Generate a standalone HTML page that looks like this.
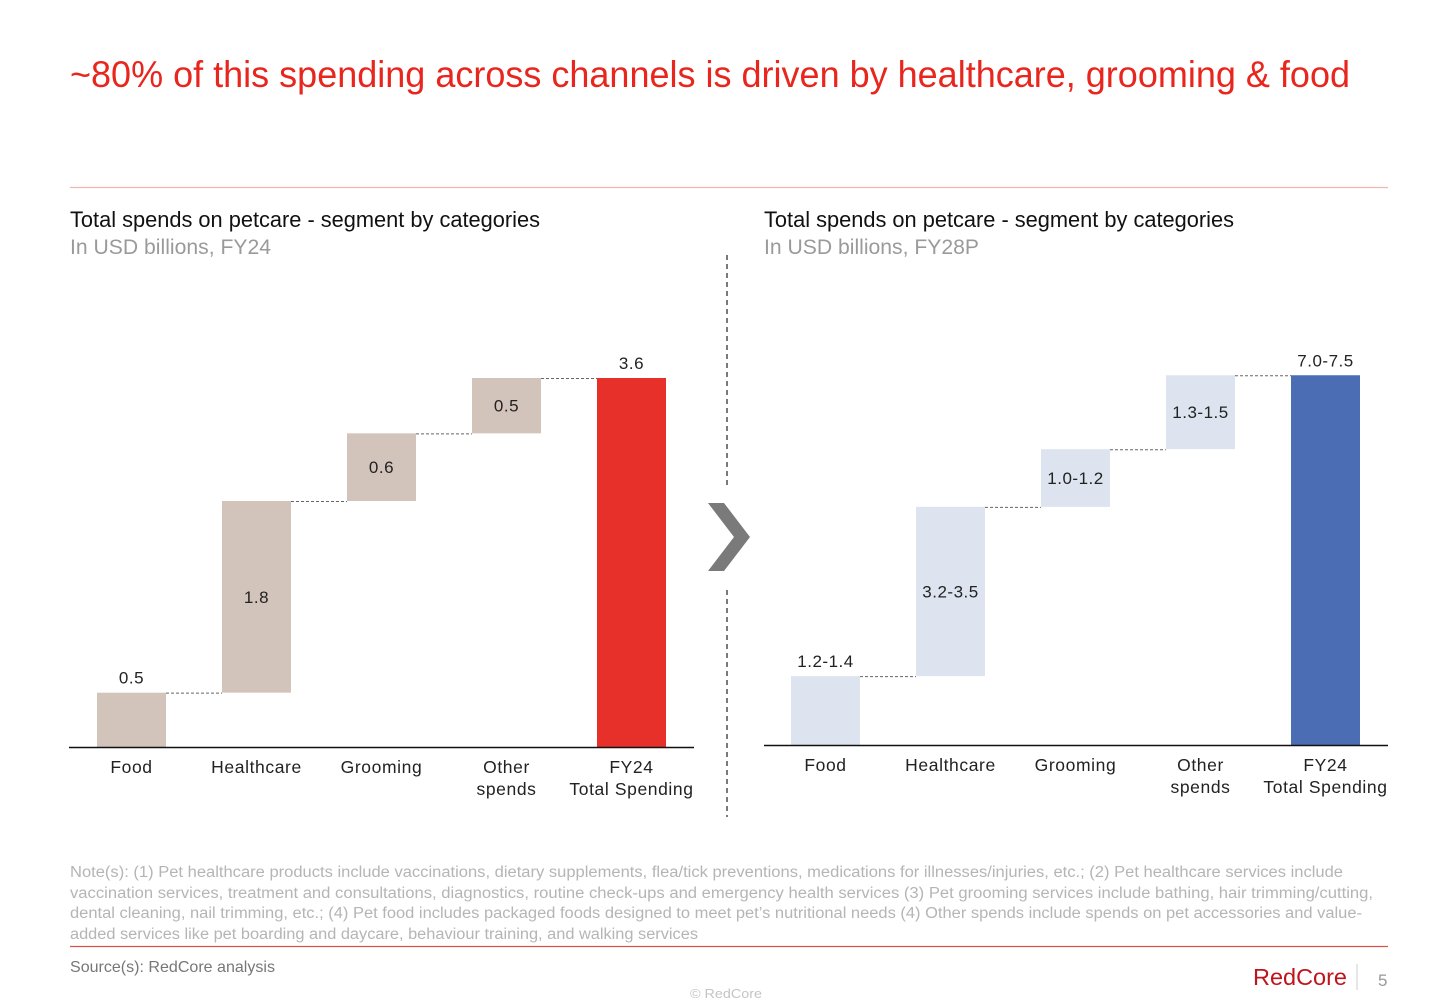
<!DOCTYPE html>
<html><head><meta charset="utf-8"><style>
body{margin:0;background:#fff}
svg{display:block;font-family:"Liberation Sans",sans-serif}
</style></head><body>
<svg id="s" width="1456" height="1007" viewBox="0 0 1456 1007">
<text x="70" y="87" font-size="37" fill="#e8261e" textLength="1280" lengthAdjust="spacingAndGlyphs">~80% of this spending across channels is driven by healthcare, grooming &amp; food</text>
<line x1="70" y1="187.5" x2="1388" y2="187.5" stroke="#f0b8b0" stroke-width="1.2"/>
<text x="70" y="227" font-size="22" fill="#111" textLength="470" lengthAdjust="spacingAndGlyphs">Total spends on petcare - segment by categories</text>
<text x="70" y="254" font-size="21" fill="#9a9a9a" textLength="201" lengthAdjust="spacingAndGlyphs">In USD billions, FY24</text>
<text x="764" y="227" font-size="22" fill="#111" textLength="470" lengthAdjust="spacingAndGlyphs">Total spends on petcare - segment by categories</text>
<text x="764" y="254" font-size="21" fill="#9a9a9a" textLength="215" lengthAdjust="spacingAndGlyphs">In USD billions, FY28P</text>
<line x1="727" y1="255" x2="727" y2="485" stroke="#333" stroke-width="1.3" stroke-dasharray="5,4"/>
<line x1="727" y1="590" x2="727" y2="817" stroke="#333" stroke-width="1.3" stroke-dasharray="5,4"/>
<polygon points="708,503 724,503 750,537 724,571 708,571 734,537" fill="#7a7a7a"/>
<g id="left"></g>
<g id="right"></g>
<g font-size="15.5" fill="#b5b5b5">
<text x="70" y="877" textLength="1273" lengthAdjust="spacingAndGlyphs">Note(s): (1) Pet healthcare products include vaccinations, dietary supplements, flea/tick preventions, medications for illnesses/injuries, etc.; (2) Pet healthcare services include</text>
<text x="70" y="898" textLength="1303" lengthAdjust="spacingAndGlyphs">vaccination services, treatment and consultations, diagnostics, routine check-ups and emergency health services (3) Pet grooming services include bathing, hair trimming/cutting,</text>
<text x="70" y="918" textLength="1292" lengthAdjust="spacingAndGlyphs">dental cleaning, nail trimming, etc.; (4) Pet food includes packaged foods designed to meet pet’s nutritional needs (4) Other spends include spends on pet accessories and value-</text>
<text x="70" y="939" textLength="628" lengthAdjust="spacingAndGlyphs">added services like pet boarding and daycare, behaviour training, and walking services</text>
</g>
<line x1="70" y1="946.5" x2="1388" y2="946.5" stroke="#d9534a" stroke-width="1.2"/>
<text x="70" y="972" font-size="16" fill="#777" textLength="205" lengthAdjust="spacingAndGlyphs">Source(s): RedCore analysis</text>
<text x="690" y="998" font-size="13" fill="#c4c4c4" textLength="72" lengthAdjust="spacingAndGlyphs">© RedCore</text>
<text x="1253" y="985" font-size="23" fill="#c0141c" textLength="94" lengthAdjust="spacingAndGlyphs">RedCore</text>
<line x1="1357" y1="964" x2="1357" y2="990" stroke="#ccc" stroke-width="1"/>
<text x="1378" y="986" font-size="17" fill="#999">5</text>
</svg>
<script>
const categories = ["Food","Healthcare","Grooming","Other|spends","FY24|Total Spending"];
const leftValues = [0.53, 1.87, 0.66, 0.54];
const leftLabels = ["0.5","1.8","0.6","0.5","3.6"];
const rightValues = [1.35, 3.32, 1.13, 1.45];
const rightLabels = ["1.2-1.4","3.2-3.5","1.0-1.2","1.3-1.5","7.0-7.5"];
const NS = "http://www.w3.org/2000/svg";
function mk(tag, attrs, parent){const e=document.createElementNS(NS,tag);for(const k in attrs)e.setAttribute(k,attrs[k]);parent.appendChild(e);return e;}
function draw(g, vals, labels, opt){
  const total = vals.reduce((a,b)=>a+b,0);
  const y = v => opt.base - v * opt.scale;
  const x = i => opt.x0 + i*125;
  let cum = 0;
  const tops = [];
  vals.concat([total]).forEach((v,i)=>{
    const isTot = i===vals.length;
    const lo = isTot?0:cum, hi = isTot?total:cum+v;
    const r = mk("rect",{x:x(i),y:y(hi),width:69,height:y(lo)-y(hi),fill:isTot?opt.tot:opt.fill},g);
    
    
    tops.push(y(hi));
    const outside = (i===0||isTot);
    const t = mk("text",{x:x(i)+34.5,y:outside?y(hi)-9:(y(hi)+y(lo))/2+6,"font-size":17,fill:"#222","text-anchor":"middle","letter-spacing":"0.5"},g);
    t.textContent = labels[i];
    
    
    if(!isTot) cum = hi;
  });
  for(let i=0;i<vals.length;i++){
    const l = mk("line",{x1:x(i)+69,x2:x(i+1),y1:tops[i]+0.5,y2:tops[i]+0.5,stroke:"#666","stroke-width":1,"stroke-dasharray":"3,2"},g);
    
    
  }
  const ax = mk("line",{x1:opt.ax1,x2:opt.ax2,y1:opt.base+0.5,y2:opt.base+0.5,stroke:"#111","stroke-width":1.5},g);
  
  
  categories.forEach((c,i)=>{
    const parts = c.split('|');
    if(i===4) parts[0]=opt.totName;
    parts.forEach((p,j)=>{
      const t = mk("text",{x:x(i)+34.5,y:opt.base+26+j*22,"font-size":17.5,fill:"#222","text-anchor":"middle","letter-spacing":"0.6"},g);
      t.textContent = p;
      
      
    });
  });
}
draw(document.getElementById('left'), leftValues, leftLabels, {base:747, scale:102.5, x0:97, fill:"#d3c4bb", tot:"#e8302a", ax1:69, ax2:694, totName:"FY24"});
draw(document.getElementById('right'), rightValues, rightLabels, {base:745, scale:51, x0:791, fill:"#dde4ef", tot:"#4a6db3", ax1:764, ax2:1388, totName:"FY24"});
</script>
</body></html>
